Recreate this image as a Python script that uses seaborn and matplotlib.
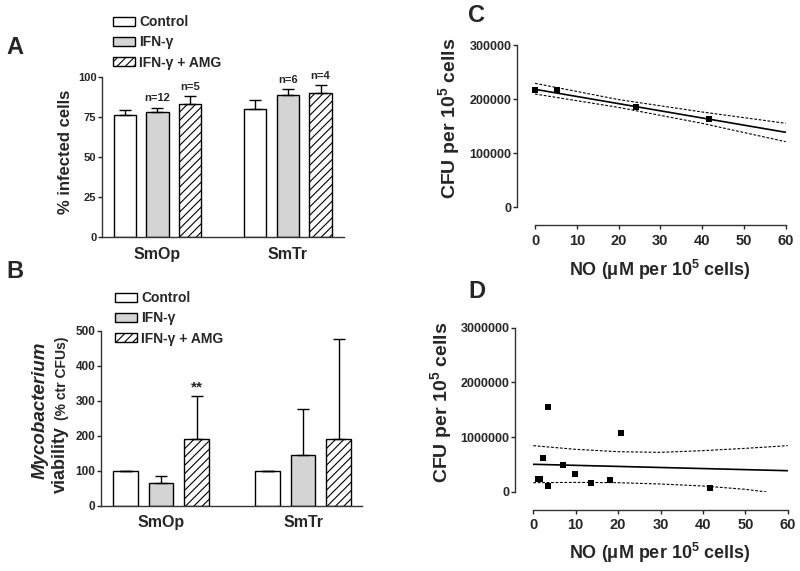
import numpy as np
import pandas as pd
import matplotlib
matplotlib.use('Agg')
import matplotlib.pyplot as plt
from matplotlib.patches import Patch
import seaborn as sns

# categories
groups = ['SmOp', 'SmTr']
treatments = ['Control', 'IFN-γ', 'IFN-γ + AMG']

# panel A: % infected cells (mean and upper error)
a_control = [76.5, 80.2]
a_ifn = [78.0, 89.0]
a_amg = [83.4, 90.0]
a_control_err = [3.1, 5.2]
a_ifn_err = [2.9, 3.7]
a_amg_err = [4.7, 5.2]
a_ifn_n = ['n=12', 'n=6']
a_amg_n = ['n=5', 'n=4']

# panel B: Mycobacterium viability (% of control CFUs)
b_control = [100, 100]
b_ifn = [65, 146]
b_amg = [190, 190]
b_control_err = [0, 0]
b_ifn_err = [20, 129]
b_amg_err = [123, 287]

# panel C: CFU vs NO, fitted line and 95% band
c_no = [0.0, 5.2, 24.2, 41.7]
c_cfu = [217200, 217000, 186300, 163000]
c_fit_x = [0, 60]
c_fit_y = [218500, 138900]
c_band_x = [0, 20, 40, 60]
c_upper = [229600, 199500, 176500, 155600]
c_lower = [209800, 185000, 155500, 121500]

# panel D
d_no = [1.1, 1.5, 2.4, 3.4, 3.4, 7.1, 9.8, 13.6, 18.2, 20.8, 41.7]
d_cfu = [232000, 236000, 626000, 1546000, 110000, 499000, 323000, 170000, 219000, 1083000, 79000]
d_fit_x = [0, 60]
d_fit_y = [506000, 389000]
d_upper_x = [0, 10, 20, 30, 40, 50, 60]
d_upper = [846000, 779000, 736000, 724000, 755000, 797000, 846000]
d_lower_x = [0, 10, 20, 30, 40, 50, 55]
d_lower = [170000, 176000, 170000, 146000, 110000, 49000, 0]

colors = ['white', '#d4d4d4', 'white']
hatches = ['', '', '////']

sns.set_style('ticks')
plt.rcParams['font.family'] = ['Liberation Sans', 'DejaVu Sans']
plt.rcParams['font.weight'] = 'bold'
plt.rcParams['axes.labelweight'] = 'bold'
plt.rcParams['hatch.linewidth'] = 0.8
plt.rcParams['mathtext.fontset'] = 'custom'
plt.rcParams['mathtext.rm'] = 'Liberation Sans:bold'
plt.rcParams['mathtext.bf'] = 'Liberation Sans:bold'

W, H = 800, 571
fig = plt.figure(figsize=(8, 5.71), dpi=100)


def px(x, y):
    return x / W, 1 - y / H


def box(left, top, right, bottom):
    return [left / W, 1 - bottom / H, (right - left) / W, (bottom - top) / H]


def bar_panel(ax, means, errs, tick_size):
    df = pd.DataFrame({
        'group': groups * 3,
        'treatment': np.repeat(treatments, len(groups)),
        'value': sum(means, []),
    })
    sns.barplot(data=df, x='group', y='value', hue='treatment', hue_order=treatments,
                palette=colors, saturation=1, width=0.75, gap=0.32, errorbar=None,
                edgecolor='black', linewidth=1, legend=False, ax=ax)
    tops = []
    for cont, h, err in zip(ax.containers, hatches, errs):
        xs = [b.get_x() + b.get_width() / 2 for b in cont]
        ys = [b.get_height() for b in cont]
        for b in cont:
            b.set_hatch(h)
        ax.errorbar(xs, ys, yerr=[[0] * len(err), err], fmt='none', ecolor='black',
                    elinewidth=1, capsize=4, capthick=1, zorder=3)
        tops.append([(x, y + e) for x, y, e in zip(xs, ys, err)])
    sns.despine(ax=ax)
    ax.set_xlabel('')
    ax.set_ylabel('')
    ax.tick_params(axis='x', length=0, labelsize=11.5, pad=7)
    ax.tick_params(axis='y', length=3, width=1, labelsize=tick_size, pad=1)
    for sp in ax.spines.values():
        sp.set_linewidth(1)
        sp.set_color('#333333')
    return tops


def legend_at(x, y):
    handles = [Patch(facecolor=c, edgecolor='black', hatch=h, linewidth=1)
               for c, h in zip(colors, hatches)]
    fig.legend(handles, treatments, loc='upper left', bbox_to_anchor=px(x, y),
               frameon=False, borderpad=0, borderaxespad=0, handlelength=1.6,
               handleheight=0.6, handletextpad=0.3, labelspacing=0.45,
               prop=dict(size=10, weight='bold'))


# ---- panel A
axA = fig.add_axes(box(102, 77, 344, 237))
topsA = bar_panel(axA, [a_control, a_ifn, a_amg],
                  [a_control_err, a_ifn_err, a_amg_err], 8)
axA.set_xlim(-0.425, 1.43)
axA.set_ylim(0, 100)
axA.set_yticks([0, 25, 50, 75, 100])
for (x, y), lab in zip(topsA[1], a_ifn_n):
    axA.annotate(lab, (x, y), xytext=(0, 3), textcoords='offset points',
                 ha='center', va='bottom', fontsize=8, fontweight='bold')
for (x, y), lab in zip(topsA[2], a_amg_n):
    axA.annotate(lab, (x, y), xytext=(0, 3), textcoords='offset points',
                 ha='center', va='bottom', fontsize=8, fontweight='bold')
legend_at(113, 15)
fig.text(*px(65, 152), '% infected cells', rotation=90, ha='center', va='center',
         fontsize=12, fontweight='bold')

# ---- panel B
axB = fig.add_axes(box(101, 330.7, 362, 505.7))
topsB = bar_panel(axB, [b_control, b_ifn, b_amg],
                  [b_control_err, b_ifn_err, b_amg_err], 8.5)
axB.set_xlim(-0.423, 1.415)
axB.set_ylim(0, 500)
axB.set_yticks([0, 100, 200, 300, 400, 500])
x0, y0 = topsB[2][0]
axB.annotate('**', (x0, y0), xytext=(0, 1), textcoords='offset points',
             ha='center', va='bottom', fontsize=11, fontweight='bold')
legend_at(115, 291)
fig.text(*px(40, 410), 'Mycobacterium', rotation=90, ha='center', va='center',
         fontsize=13.5, fontweight='bold', fontstyle='italic')
fig.text(*px(60, 493), 'viability', rotation=90, ha='center', va='bottom',
         fontsize=13, fontweight='bold')
fig.text(*px(62, 420), '(% ctr CFUs)', rotation=90, ha='center', va='bottom',
         fontsize=10, fontweight='bold')


# ---- panels C and D
def scatter_panel(ax, xs, ys, fx, fy, ux, uy, lx, ly, ymax, ystep):
    sns.lineplot(x=fx, y=fy, ax=ax, color='black', linewidth=1.2)
    sns.lineplot(x=ux, y=uy, ax=ax, color='black', linewidth=0.8, linestyle=(0, (2.5, 1.5)))
    sns.lineplot(x=lx, y=ly, ax=ax, color='black', linewidth=0.8, linestyle=(0, (2.5, 1.5)))
    sns.scatterplot(x=xs, y=ys, ax=ax, marker='s', s=13, color='black',
                    linewidth=0, clip_on=False, zorder=4)
    ax.set_xlim(0, 60)
    ax.set_ylim(0, ymax)
    ax.set_xticks(range(0, 61, 10))
    ax.set_yticks(np.arange(0, ymax + 1, ystep))
    ax.ticklabel_format(axis='y', style='plain')
    sns.despine(ax=ax, offset=13, trim=True)
    ax.tick_params(axis='x', length=3, width=1, labelsize=10.5, pad=3)
    ax.tick_params(axis='y', length=3, width=1, labelsize=9, pad=1)
    for sp in ax.spines.values():
        sp.set_linewidth(1)
        sp.set_color('#333333')


axC = fig.add_axes(box(535, 45.3, 785.7, 207.3))
scatter_panel(axC, c_no, c_cfu, c_fit_x, c_fit_y, c_band_x, c_upper,
              c_band_x, c_lower, 300000, 100000)
axD = fig.add_axes(box(533.3, 327.7, 787.7, 492))
scatter_panel(axD, d_no, d_cfu, d_fit_x, d_fit_y, d_upper_x, d_upper,
              d_lower_x, d_lower, 3000000, 1000000)

ylab = r'CFU per 10$^{5}$ cells'
xlab = r'NO (μM per 10$^{5}$ cells)'
fig.text(*px(450, 118), ylab, rotation=90, ha='center', va='center', fontsize=14, fontweight='bold')
fig.text(*px(660, 270), xlab, ha='center', va='center', fontsize=13, fontweight='bold')
fig.text(*px(442, 402), ylab, rotation=90, ha='center', va='center', fontsize=14, fontweight='bold')
fig.text(*px(660, 553), xlab, ha='center', va='center', fontsize=13, fontweight='bold')

# panel letters
for lab, (x, y) in zip('ABCD', [(15, 47), (15, 272), (477, 15), (477, 292)]):
    fig.text(*px(x, y), lab, ha='center', va='center', fontsize=17, fontweight='bold')

fig.savefig('out.png', dpi=100)
